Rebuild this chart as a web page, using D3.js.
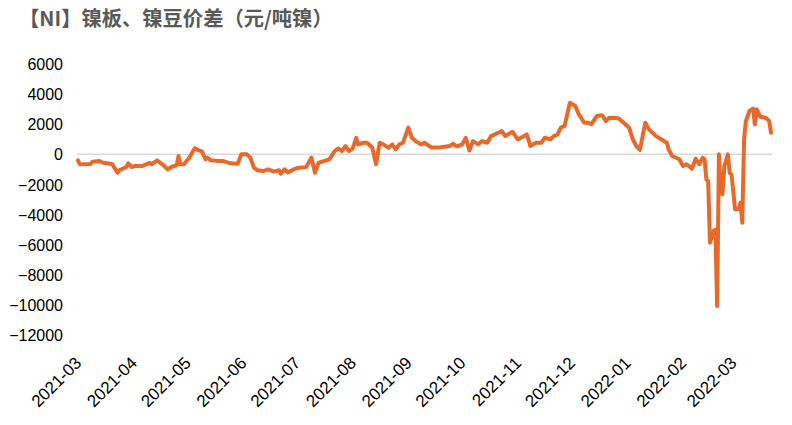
<!DOCTYPE html>
<html><head><meta charset="utf-8">
<script src="https://cdn.jsdelivr.net/npm/d3@7"></script>
<style>body{margin:0;background:#fff}svg{display:block}</style>
</head><body>
<svg id="c" width="792" height="425"></svg>
<script>
const title = "【NI】镍板、镍豆价差（元/吨镍）";
const dates = ["2021-03-01","2021-03-02","2021-03-08","2021-03-09","2021-03-13","2021-03-15","2021-03-19","2021-03-20","2021-03-23","2021-03-24","2021-03-28","2021-03-29","2021-03-31",
"2021-04-02","2021-04-06","2021-04-10","2021-04-11","2021-04-14","2021-04-17","2021-04-20","2021-04-22","2021-04-25","2021-04-26","2021-04-27","2021-04-29",
"2021-05-02","2021-05-05","2021-05-07","2021-05-09","2021-05-11","2021-05-12","2021-05-14","2021-05-18","2021-05-21","2021-05-25","2021-05-29","2021-05-31",
"2021-06-03","2021-06-05","2021-06-07","2021-06-09","2021-06-12","2021-06-15","2021-06-18","2021-06-21","2021-06-22","2021-06-24","2021-06-26","2021-06-29",
"2021-07-02","2021-07-06","2021-07-09","2021-07-11","2021-07-13","2021-07-16","2021-07-19","2021-07-22","2021-07-24","2021-07-26","2021-07-28","2021-07-30",
"2021-08-01","2021-08-03","2021-08-04","2021-08-07","2021-08-09","2021-08-12","2021-08-14","2021-08-16","2021-08-18","2021-08-21","2021-08-23","2021-08-25","2021-08-27","2021-08-29",
"2021-09-01","2021-09-03","2021-09-05","2021-09-08","2021-09-10","2021-09-14","2021-09-18","2021-09-20","2021-09-24","2021-09-26","2021-09-28",
"2021-10-01","2021-10-03","2021-10-05","2021-10-07","2021-10-10","2021-10-12","2021-10-15","2021-10-17","2021-10-21","2021-10-23","2021-10-25","2021-10-29",
"2021-11-01","2021-11-06","2021-11-08","2021-11-11","2021-11-14","2021-11-16","2021-11-19","2021-11-21","2021-11-23","2021-11-25","2021-11-27","2021-11-30",
"2021-12-03","2021-12-05","2021-12-08","2021-12-10","2021-12-12","2021-12-15","2021-12-18","2021-12-20","2021-12-22","2021-12-27","2021-12-30",
"2022-01-02","2022-01-04","2022-01-06","2022-01-08","2022-01-11","2022-01-13","2022-01-17","2022-01-23","2022-01-24","2022-01-26","2022-01-30",
"2022-02-01","2022-02-03","2022-02-06","2022-02-08","2022-02-10","2022-02-12","2022-02-13","2022-02-14","2022-02-15","2022-02-16","2022-02-18","2022-02-19","2022-02-20","2022-02-21","2022-02-22","2022-02-23","2022-02-24","2022-02-26","2022-02-27","2022-02-28",
"2022-03-02","2022-03-04","2022-03-05","2022-03-06","2022-03-07","2022-03-08","2022-03-10","2022-03-12","2022-03-13","2022-03-14","2022-03-16","2022-03-19","2022-03-21","2022-03-22"];
const spread = [-400,-660,-650,-490,-450,-560,-620,-650,-1220,-1060,-840,-600,-840,
-770,-770,-560,-660,-400,-660,-1000,-840,-720,-110,-660,-660,
-220,400,280,200,-330,-220,-400,-450,-450,-600,-620,0,
0,-220,-890,-1060,-1110,-1000,-1150,-1060,-1290,-1000,-1200,-1000,
-890,-850,-220,-1220,-560,-450,-330,220,400,220,550,220,
400,1100,660,770,770,440,-660,770,660,440,660,330,660,770,
1770,1100,880,660,770,450,450,480,550,700,530,
660,1100,260,880,660,880,770,1210,1430,1550,1210,1500,
990,1320,550,770,770,1100,990,1210,1320,1770,1880,3430,
3210,2650,2100,2100,2000,2540,2600,2210,2430,2390,2100,
1770,1000,550,290,2100,1660,1210,770,330,-110,-330,
-780,-660,-950,-290,-660,-220,-330,-1660,-1770,-5870,-5100,-5000,-10070,0,-2550,-2650,-780,0,-1220,-1330,
-3650,-3650,-3210,-4540,1000,2210,2880,3030,2000,3000,2500,2430,2210,1440];
const yTicks = [6000,4000,2000,0,-2000,-4000,-6000,-8000,-10000,-12000];
const xStart = "2021-03-01", xEnd = "2022-03-22";

const parse = d3.timeParse("%Y-%m-%d");
const data = dates.map((d,i)=>({date:parse(d), v:spread[i]}));
const svg = d3.select("#c");
const x = d3.scaleTime().domain([parse(xStart), parse(xEnd)]).range([78, 771]);
const y = d3.scaleLinear().domain([-12000, 6000]).range([335, 64]);
const font = "'Liberation Sans', Arial, sans-serif";

svg.append("text").attr("x", 19).attr("y", 26)
  .attr("font-family", "'Noto Sans CJK SC', sans-serif").attr("font-weight", "bold")
  .attr("font-size", 20.3).attr("fill", "#595959").text(title);

// y axis labels
const yAxis = d3.axisLeft(y).tickValues(yTicks).tickSize(0).tickPadding(0).tickFormat(d3.format("d"));
const gy = svg.append("g").attr("transform", "translate(63,0)").call(yAxis);
gy.select(".domain").remove();
gy.selectAll("text").attr("font-family", font).attr("font-size", 16).attr("fill", "#000").attr("dy", "0.35em");

// zero line
svg.append("line").attr("x1", 77).attr("x2", 772).attr("y1", y(0)).attr("y2", y(0))
  .attr("stroke", "#d9d9d9").attr("stroke-width", 1.5);

// x axis
const xAxis = d3.axisBottom(x).ticks(d3.timeMonth.every(1)).tickSize(0).tickPadding(0).tickFormat(d3.timeFormat("%Y-%m"));
const gx = svg.append("g").attr("transform", "translate(0,364)").call(xAxis);
gx.select(".domain").remove();
gx.selectAll("text").attr("font-family", font).attr("font-size", 17).attr("fill", "#000")
  .attr("text-anchor", "end").attr("dy", 0).attr("y", 0).attr("transform", "translate(4,0) rotate(-45)");

// line
const line = d3.line().x(d=>x(d.date)).y(d=>y(d.v)).curve(d3.curveLinear);
svg.append("path").datum(data).attr("d", line).attr("fill", "none")
  .attr("stroke", "#E8692A").attr("stroke-width", 4).attr("stroke-linejoin", "round").attr("stroke-linecap", "round");
</script>
</body></html>
